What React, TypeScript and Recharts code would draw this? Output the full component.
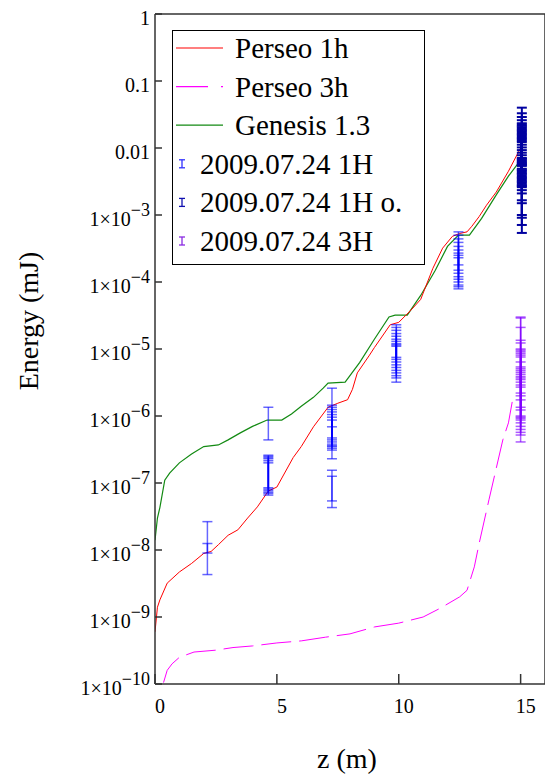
import React from 'react';
import { ComposedChart, ErrorBar, Label, Legend, Line, Scatter, XAxis, YAxis } from 'recharts';

const SERIF = { fontFamily: '"Liberation Serif"' };
const SERIF_CSS = 'html body #root svg text.sf, html body #root svg text.sf tspan { font-family: "Liberation Serif" !important; }';

const zTicks = [0, 5, 10, 15];
const energyTicks = [1e-10, 1e-9, 1e-8, 1e-7, 1e-6, 1e-5, 1e-4, 1e-3, 0.01, 0.1, 1];

// simulated curves (z in m, energy in mJ)
const perseo1h = [
  { z: 0, e: 6.0e-10 }, { z: 0.1, e: 1.4e-9 }, { z: 0.2, e: 1.8e-9 }, { z: 0.5, e: 3.2e-9 },
  { z: 1.0, e: 4.7e-9 }, { z: 1.5, e: 6.3e-9 }, { z: 2.0, e: 8.9e-9 }, { z: 2.3, e: 9.5e-9 },
  { z: 2.6, e: 1.2e-8 }, { z: 3.0, e: 1.66e-8 }, { z: 3.4, e: 2.0e-8 }, { z: 3.8, e: 3.0e-8 },
  { z: 4.2, e: 4.4e-8 }, { z: 4.65, e: 7.6e-8 }, { z: 5.0, e: 8.7e-8 }, { z: 5.67, e: 2.4e-7 },
  { z: 6.0, e: 3.5e-7 }, { z: 6.5, e: 6.9e-7 }, { z: 7.1, e: 1.35e-6 }, { z: 7.5, e: 1.55e-6 },
  { z: 7.9, e: 1.75e-6 }, { z: 8.1, e: 2.5e-6 }, { z: 8.3, e: 4.4e-6 }, { z: 8.8, e: 8.1e-6 },
  { z: 9.0, e: 1.05e-5 }, { z: 9.65, e: 2.3e-5 }, { z: 10.0, e: 2.5e-5 }, { z: 10.5, e: 3.8e-5 },
  { z: 10.9, e: 5.5e-5 }, { z: 11.4, e: 1.6e-4 }, { z: 11.8, e: 3.2e-4 }, { z: 12.2, e: 4.8e-4 },
  { z: 12.5, e: 5.3e-4 }, { z: 12.8, e: 5.6e-4 }, { z: 13.0, e: 6.8e-4 }, { z: 13.3, e: 9.5e-4 },
  { z: 13.6, e: 1.4e-3 }, { z: 14.0, e: 2.2e-3 }, { z: 14.5, e: 4.5e-3 }, { z: 14.85, e: 7.9e-3 },
  { z: 15.0, e: 1.0e-2 },
];

const perseo3h = [
  { z: 0.35, e: 1.05e-10 }, { z: 0.5, e: 1.6e-10 }, { z: 0.7, e: 2.0e-10 }, { z: 1.0, e: 2.5e-10 },
  { z: 1.6, e: 3.0e-10 }, { z: 2.5, e: 3.2e-10 }, { z: 3.2, e: 3.5e-10 }, { z: 4.0, e: 3.7e-10 },
  { z: 5.0, e: 4.1e-10 }, { z: 6.0, e: 4.4e-10 }, { z: 7.0, e: 5.0e-10 }, { z: 8.0, e: 5.6e-10 },
  { z: 9.0, e: 7.1e-10 }, { z: 10.0, e: 8.1e-10 }, { z: 11.0, e: 1.0e-9 }, { z: 11.7, e: 1.35e-9 },
  { z: 12.5, e: 2.0e-9 }, { z: 12.8, e: 2.5e-9 }, { z: 13.1, e: 5.6e-9 }, { z: 13.3, e: 1.26e-8 },
  { z: 13.7, e: 5.6e-8 }, { z: 14.0, e: 1.66e-7 }, { z: 14.27, e: 4.4e-7 }, { z: 14.5, e: 7.9e-7 },
  { z: 14.7, e: 2.0e-6 },
];

const genesis = [
  { z: 0, e: 1.4e-8 }, { z: 0.1, e: 3.0e-8 }, { z: 0.2, e: 4.3e-8 }, { z: 0.4, e: 1.1e-7 },
  { z: 0.6, e: 1.4e-7 }, { z: 1.0, e: 2.0e-7 }, { z: 1.5, e: 2.7e-7 }, { z: 2.0, e: 3.5e-7 },
  { z: 2.6, e: 3.7e-7 }, { z: 3.0, e: 4.4e-7 }, { z: 3.5, e: 5.6e-7 }, { z: 4.0, e: 7.0e-7 },
  { z: 4.6, e: 8.7e-7 }, { z: 5.2, e: 8.7e-7 }, { z: 5.6, e: 1.07e-6 }, { z: 6.0, e: 1.4e-6 },
  { z: 6.5, e: 1.9e-6 }, { z: 6.9, e: 2.6e-6 }, { z: 7.1, e: 3.1e-6 }, { z: 7.8, e: 3.2e-6 },
  { z: 8.4, e: 6.3e-6 }, { z: 9.0, e: 1.4e-5 }, { z: 9.6, e: 3.0e-5 }, { z: 9.85, e: 3.2e-5 },
  { z: 10.35, e: 3.2e-5 }, { z: 10.9, e: 6.3e-5 }, { z: 11.5, e: 1.5e-4 }, { z: 12.0, e: 3.4e-4 },
  { z: 12.45, e: 5.0e-4 }, { z: 12.9, e: 5.0e-4 }, { z: 13.4, e: 8.9e-4 }, { z: 14.0, e: 2.0e-3 },
  { z: 14.5, e: 3.8e-3 }, { z: 14.85, e: 5.6e-3 }, { z: 15.0, e: 6.3e-3 },
];

// measurements: z, value, lower bound, upper bound
const meas1h = [
  { z: 2.15, e: 1.1e-8, lo: 4.3e-9, hi: 2.65e-8 },
  { z: 2.15, e: 1.05e-8, lo: 9.0e-9, hi: 1.25e-8 },
  { z: 4.65, e: 8.7e-7, lo: 4.4e-7, hi: 1.35e-6 },
  { z: 4.65, e: 1.5e-7, lo: 8.5e-8, hi: 2.6e-7 },
  { z: 4.65, e: 1.45e-7, lo: 8.1e-8, hi: 2.5e-7 },
  { z: 4.65, e: 1.4e-7, lo: 7.7e-8, hi: 2.4e-7 },
  { z: 4.65, e: 1.35e-7, lo: 7.3e-8, hi: 2.3e-7 },
  { z: 4.65, e: 1.3e-7, lo: 7.0e-8, hi: 2.15e-7 },
  { z: 4.65, e: 1.25e-7, lo: 6.6e-8, hi: 2.0e-7 },
  { z: 7.26, e: 1.0e-6, lo: 2.3e-7, hi: 2.6e-6 },
  { z: 7.26, e: 1.0e-7, lo: 4.3e-8, hi: 1.55e-7 },
  { z: 7.26, e: 8.5e-8, lo: 5.4e-8, hi: 1.26e-7 },
  { z: 7.26, e: 7.0e-7, lo: 4.7e-7, hi: 1.45e-6 },
  { z: 7.26, e: 6.8e-7, lo: 4.4e-7, hi: 1.35e-6 },
  { z: 7.26, e: 6.6e-7, lo: 4.1e-7, hi: 1.25e-6 },
  { z: 7.26, e: 6.4e-7, lo: 3.8e-7, hi: 1.15e-6 },
  { z: 7.26, e: 6.2e-7, lo: 3.6e-7, hi: 1.05e-6 },
  { z: 7.26, e: 6.0e-7, lo: 3.3e-7, hi: 9.6e-7 },
  { z: 7.26, e: 5.8e-7, lo: 3.1e-7, hi: 8.7e-7 },
  { z: 7.26, e: 6.5e-7, lo: 3.5e-7, hi: 6.9e-7 },
  { z: 9.9, e: 1.0e-5, lo: 3.2e-6, hi: 2.3e-5 },
  { z: 9.9, e: 9.5e-6, lo: 3.7e-6, hi: 2.1e-5 },
  { z: 9.9, e: 9.0e-6, lo: 4.0e-6, hi: 1.9e-5 },
  { z: 9.9, e: 8.5e-6, lo: 4.4e-6, hi: 1.7e-5 },
  { z: 9.9, e: 8.0e-6, lo: 4.8e-6, hi: 1.55e-5 },
  { z: 9.9, e: 7.5e-6, lo: 5.3e-6, hi: 1.4e-5 },
  { z: 9.9, e: 7.0e-6, lo: 5.8e-6, hi: 1.3e-5 },
  { z: 9.9, e: 7.0e-6, lo: 6.4e-6, hi: 1.2e-5 },
  { z: 9.9, e: 8.0e-6, lo: 7.0e-6, hi: 1.1e-5 },
  { z: 9.9, e: 7.5e-6, lo: 7.5e-6, hi: 1.15e-5 },
  { z: 12.45, e: 2.2e-4, lo: 1.5e-4, hi: 5.6e-4 },
  { z: 12.45, e: 2.1e-4, lo: 1.35e-4, hi: 5.0e-4 },
  { z: 12.45, e: 2.0e-4, lo: 1.2e-4, hi: 4.4e-4 },
  { z: 12.45, e: 1.9e-4, lo: 1.1e-4, hi: 3.9e-4 },
  { z: 12.45, e: 1.8e-4, lo: 1.0e-4, hi: 3.4e-4 },
  { z: 12.45, e: 1.7e-4, lo: 9.0e-5, hi: 3.0e-4 },
  { z: 12.45, e: 1.6e-4, lo: 8.5e-5, hi: 2.7e-4 },
  { z: 12.45, e: 1.5e-4, lo: 7.9e-5, hi: 2.5e-4 },
  { z: 12.45, e: 2.0e-4, lo: 1.8e-4, hi: 2.3e-4 },
];

const meas1hO = [
  { z: 15.05, e: 9.0e-3, lo: 2.6e-3, hi: 4.0e-2 },
  { z: 15.05, e: 8.5e-3, lo: 2.8e-3, hi: 3.3e-2 },
  { z: 15.05, e: 8.0e-3, lo: 3.1e-3, hi: 2.9e-2 },
  { z: 15.05, e: 7.5e-3, lo: 3.4e-3, hi: 2.6e-2 },
  { z: 15.05, e: 1.0e-2, lo: 2.35e-3, hi: 2.34e-2 },
  { z: 15.05, e: 9.5e-3, lo: 2.1e-3, hi: 2.14e-2 },
  { z: 15.05, e: 9.0e-3, lo: 1.66e-3, hi: 1.95e-2 },
  { z: 15.05, e: 8.5e-3, lo: 1.5e-3, hi: 1.78e-2 },
  { z: 15.05, e: 8.0e-3, lo: 1.0e-3, hi: 1.62e-2 },
  { z: 15.05, e: 7.5e-3, lo: 9.1e-4, hi: 1.48e-2 },
  { z: 15.05, e: 7.0e-3, lo: 7.1e-4, hi: 1.35e-2 },
  { z: 15.05, e: 6.5e-3, lo: 5.4e-4, hi: 1.23e-2 },
  { z: 15.05, e: 8.0e-3, lo: 5.9e-3, hi: 1.12e-2 },
  { z: 15.05, e: 7.5e-3, lo: 5.4e-3, hi: 1.02e-2 },
  { z: 15.05, e: 7.0e-3, lo: 4.9e-3, hi: 9.3e-3 },
  { z: 15.05, e: 6.5e-3, lo: 4.5e-3, hi: 8.5e-3 },
  { z: 15.05, e: 6.0e-3, lo: 4.1e-3, hi: 7.8e-3 },
  { z: 15.05, e: 5.5e-3, lo: 3.7e-3, hi: 7.1e-3 },
  { z: 15.05, e: 9.0e-3, lo: 2.7e-3, hi: 2.24e-2 },
  { z: 15.05, e: 8.5e-3, lo: 2.95e-3, hi: 2.04e-2 },
  { z: 15.05, e: 8.0e-3, lo: 3.24e-3, hi: 1.86e-2 },
  { z: 15.05, e: 7.5e-3, lo: 3.55e-3, hi: 1.7e-2 },
  { z: 15.05, e: 7.0e-3, lo: 3.9e-3, hi: 1.55e-2 },
  { z: 15.05, e: 6.5e-3, lo: 4.27e-3, hi: 1.41e-2 },
  { z: 15.05, e: 6.0e-3, lo: 4.68e-3, hi: 1.29e-2 },
  { z: 15.05, e: 6.2e-3, lo: 6.1e-3, hi: 6.6e-3 },
  { z: 15.05, e: 6.0e-3, lo: 5.7e-3, hi: 6.3e-3 },
  { z: 15.05, e: 6.8e-3, lo: 5.6e-3, hi: 6.9e-3 },
];

const meas3h = [
  { z: 15.0, e: 1.0e-5, lo: 3.5e-6, hi: 3.0e-5 },
  { z: 15.0, e: 9.0e-6, lo: 3.2e-6, hi: 2.9e-5 },
  { z: 15.0, e: 7.5e-6, lo: 2.9e-6, hi: 2.1e-5 },
  { z: 15.0, e: 6.0e-6, lo: 2.7e-6, hi: 1.35e-5 },
  { z: 15.0, e: 5.0e-6, lo: 2.2e-6, hi: 1.23e-5 },
  { z: 15.0, e: 4.5e-6, lo: 2.0e-6, hi: 1.0e-5 },
  { z: 15.0, e: 4.0e-6, lo: 1.74e-6, hi: 9.6e-6 },
  { z: 15.0, e: 3.5e-6, lo: 1.35e-6, hi: 9.1e-6 },
  { z: 15.0, e: 3.3e-6, lo: 1.23e-6, hi: 8.6e-6 },
  { z: 15.0, e: 2.9e-6, lo: 1.0e-6, hi: 8.1e-6 },
  { z: 15.0, e: 2.7e-6, lo: 9.6e-7, hi: 7.6e-6 },
  { z: 15.0, e: 2.5e-6, lo: 9.2e-7, hi: 6.4e-6 },
  { z: 15.0, e: 2.2e-6, lo: 8.7e-7, hi: 5.4e-6 },
  { z: 15.0, e: 2.0e-6, lo: 7.9e-7, hi: 5.1e-6 },
  { z: 15.0, e: 1.9e-6, lo: 7.0e-7, hi: 4.8e-6 },
  { z: 15.0, e: 1.7e-6, lo: 6.3e-7, hi: 4.5e-6 },
  { z: 15.0, e: 1.6e-6, lo: 5.7e-7, hi: 4.2e-6 },
  { z: 15.0, e: 1.4e-6, lo: 5.2e-7, hi: 3.9e-6 },
  { z: 15.0, e: 1.3e-6, lo: 4.1e-7, hi: 3.7e-6 },
];

const COLORS = {
  p1: '#ff0000',
  p3: '#ff00ff',
  gen: '#138a13',
  m1: '#0000ff',
  m1o: '#0000a0',
  m3: '#7f00ff',
};

const withErr = (rows: { z: number; e: number; lo: number; hi: number }[]) =>
  rows.map((r) => ({ z: r.z, e: r.e, err: [r.e - r.lo, r.hi - r.e] }));

const AXIS = '#333';

function LeftTick(props: any) {
  const { x, y, payload } = props;
  const v = payload.value as number;
  const exp = Math.round(Math.log10(v));
  return (
    <g>
      <line x1={x} x2={x + 7} y1={y} y2={y} stroke={AXIS} strokeWidth={1.5} />
      <text className="sf" x={x - 5} y={y + 11} textAnchor="end" fontSize={20} style={SERIF} fill="#000">
        {exp >= -2 ? (exp === 0 ? '1' : exp === -1 ? '0.1' : '0.01') : '1\u00d710'}
        {exp < -2 ? (
          <tspan dy={-10} fontSize={18}>{'\u2212' + -exp}</tspan>
        ) : null}
      </text>
    </g>
  );
}

function RightTick(props: any) {
  const { x, y } = props;
  return <line x1={x} x2={x - 10} y1={y} y2={y} stroke={AXIS} strokeWidth={1.5} />;
}

function BottomTick(props: any) {
  const { x, y, payload } = props;
  return (
    <g>
      <line x1={x} x2={x} y1={y} y2={y - 10} stroke={AXIS} strokeWidth={1.5} />
      <text className="sf" x={x + 5} y={y + 29} textAnchor="middle" fontSize={20} style={SERIF} fill="#000">
        {payload.value}
      </text>
    </g>
  );
}

function TopTick(props: any) {
  const { x, y } = props;
  return <line x1={x} x2={x} y1={y} y2={y + 10} stroke={AXIS} strokeWidth={1.5} />;
}

const legendRows = [
  { name: 'Perseo 1h', color: COLORS.p1, kind: 'line' },
  { name: 'Perseo 3h', color: COLORS.p3, kind: 'dash' },
  { name: 'Genesis 1.3', color: COLORS.gen, kind: 'line' },
  { name: '2009.07.24 1H', color: '#3030ff', kind: 'err' },
  { name: '2009.07.24 1H o.', color: '#1010b0', kind: 'err' },
  { name: '2009.07.24 3H', color: '#8a2be2', kind: 'err' },
];

function LegendBox() {
  return (
    <svg width={254} height={236} style={{ display: 'block' }}>
      <rect x={0.5} y={0.5} width={252} height={234} fill="#fff" stroke="#000" strokeWidth={1} />
      {legendRows.map((r, i) => {
        const cy = 18 + i * 38.6;
        return (
          <g key={r.name}>
            {r.kind === 'err' ? (
              <g stroke={r.color} strokeWidth={1.3}>
                <line x1={10} x2={10} y1={cy - 4} y2={cy + 4} />
                <line x1={7} x2={13} y1={cy - 4} y2={cy - 4} />
                <line x1={7} x2={13} y1={cy + 4} y2={cy + 4} />
              </g>
            ) : (
              <line
                x1={4}
                x2={51}
                y1={cy}
                y2={cy}
                stroke={r.color}
                strokeWidth={1.2}
                strokeDasharray={r.kind === 'dash' ? '32 13' : undefined}
              />
            )}
            <text className="sf" x={r.kind === 'err' ? 28 : 63} y={cy + 10} fontSize={29} style={SERIF} fill="#000">
              {r.name}
            </text>
          </g>
        );
      })}
    </svg>
  );
}

const noPoint = () => <g />;

export default function App() {
  return (
    <div style={{ position: 'absolute', left: 0, top: 0, width: 545, height: 779, overflow: 'hidden', background: '#fff' }}>
      <style>{SERIF_CSS}</style>
      <ComposedChart width={550} height={779} margin={{ top: 0, right: 0, bottom: 0, left: 0 }}>
        <XAxis
          xAxisId={0}
          dataKey="z"
          type="number"
          domain={[0, 16]}
          ticks={zTicks}
          interval={0}
          allowDataOverflow
          height={95}
          tickSize={0}
          tickMargin={0}
          tickLine={false}
          axisLine={{ stroke: AXIS, strokeWidth: 1.5 }}
          tick={(p: any) => <BottomTick {...p} />}
        >
          <Label
            content={() => (
              <text className="sf" x={347} y={768} textAnchor="middle" fontSize={28} style={SERIF} fill="#000">
                z (m)
              </text>
            )}
          />
        </XAxis>
        <XAxis
          xAxisId="top"
          orientation="top"
          type="number"
          domain={[0, 16]}
          ticks={zTicks}
          interval={0}
          height={14}
          tickSize={0}
          tickMargin={0}
          tickLine={false}
          axisLine={{ stroke: AXIS, strokeWidth: 1.5 }}
          tick={(p: any) => <TopTick {...p} />}
        />
        <YAxis
          yAxisId={0}
          dataKey="e"
          scale="log"
          type="number"
          domain={[1e-10, 1]}
          ticks={energyTicks}
          interval={0}
          allowDataOverflow
          width={155}
          tickSize={0}
          tickMargin={0}
          tickLine={false}
          axisLine={{ stroke: AXIS, strokeWidth: 1.5 }}
          tick={(p: any) => <LeftTick {...p} />}
        >
          <Label
            content={() => (
              <text
                className="sf"
                transform="translate(38, 321) rotate(-90)"
                textAnchor="middle"
                fontSize={28}
                style={SERIF}
                fill="#000"
              >
                Energy (mJ)
              </text>
            )}
          />
        </YAxis>
        <YAxis
          yAxisId="right"
          orientation="right"
          scale="log"
          type="number"
          domain={[1e-10, 1]}
          ticks={energyTicks}
          interval={0}
          width={5}
          tickSize={0}
          tickMargin={0}
          tickLine={false}
          axisLine={{ stroke: AXIS, strokeWidth: 1.5 }}
          tick={(p: any) => <RightTick {...p} />}
        />
        <Legend
          layout="vertical"
          align="center"
          verticalAlign="middle"
          wrapperStyle={{ left: 172, top: 30, width: 254, height: 236 }}
          content={() => <LegendBox />}
        />
        <Line data={genesis} dataKey="e" type="linear" stroke={COLORS.gen} strokeWidth={1.2} dot={false} isAnimationActive={false} />
        <Line data={perseo1h} dataKey="e" type="linear" stroke={COLORS.p1} strokeWidth={1} dot={false} isAnimationActive={false} />
        <Line data={perseo3h} dataKey="e" type="linear" stroke={COLORS.p3} strokeWidth={1} strokeDasharray="30 8" dot={false} isAnimationActive={false} />
        <Scatter data={withErr(meas1h)} shape={noPoint} isAnimationActive={false}>
          <ErrorBar dataKey="err" direction="y" width={5} stroke={COLORS.m1} strokeOpacity={0.6} strokeWidth={1.5} isAnimationActive={false} />
        </Scatter>
        <Scatter data={withErr(meas1hO)} shape={noPoint} isAnimationActive={false}>
          <ErrorBar dataKey="err" direction="y" width={5} stroke={COLORS.m1o} strokeOpacity={1} strokeWidth={2} isAnimationActive={false} />
        </Scatter>
        <Scatter data={withErr(meas3h)} shape={noPoint} isAnimationActive={false}>
          <ErrorBar dataKey="err" direction="y" width={5} stroke={COLORS.m3} strokeOpacity={0.65} strokeWidth={1.5} isAnimationActive={false} />
        </Scatter>
      </ComposedChart>
    </div>
  );
}
